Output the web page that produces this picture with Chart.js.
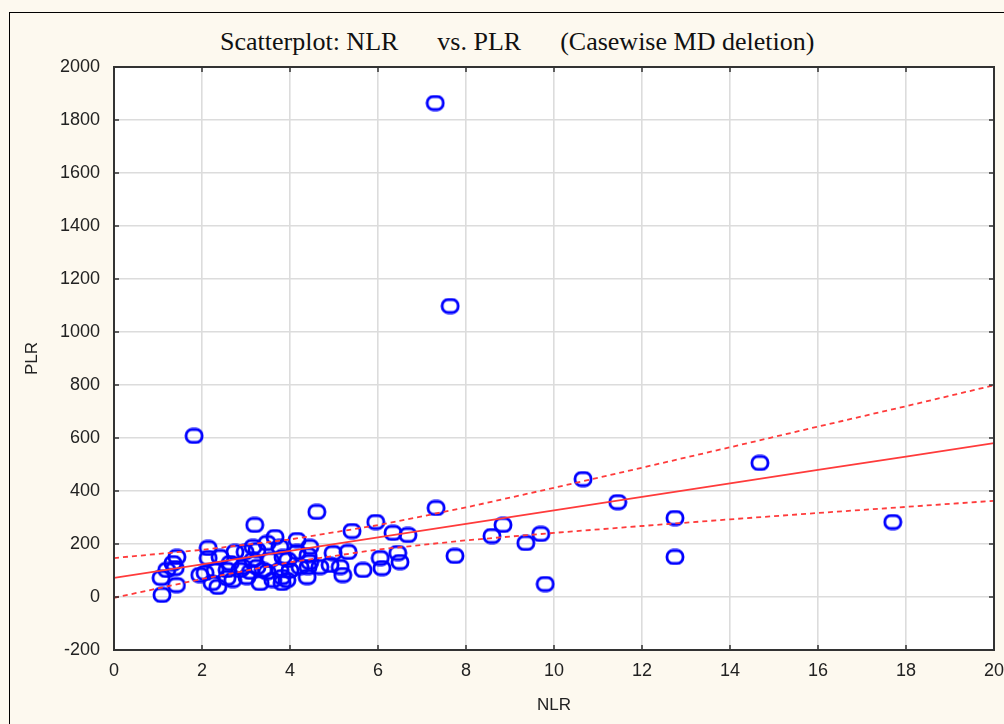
<!DOCTYPE html>
<html>
<head>
<meta charset="utf-8">
<script src="https://cdn.jsdelivr.net/npm/chart.js@4/dist/chart.umd.min.js"></script>
<style>
html, body { margin: 0; padding: 0; background: #fdf9ef; }
#wrap { position: relative; width: 1004px; height: 724px; overflow: hidden; }
#frame { position: absolute; left: 9px; top: 12px; width: 1100px; height: 800px; border: 1px solid #000; }
#title { position: absolute; left: 220px; top: 27px; font-family: "Liberation Serif", "Times New Roman", serif; font-size: 26px; color: #111; white-space: pre; }
canvas { position: absolute; left: 0; top: 0; }
</style>
</head>
<body>
<div id="wrap">
  <div id="frame"></div>
  <div id="title">Scatterplot: NLR      vs. PLR      (Casewise MD deletion)</div>
  <canvas id="scatter" width="1004" height="724"></canvas>
</div>
<script>
// scatter values
const nlr = [1.09, 1.07, 1.20, 1.34, 1.43, 1.39, 1.42, 1.82, 1.95, 2.07,
             2.14, 2.14, 2.23, 2.36, 2.41, 2.57, 2.57, 2.70, 2.64, 2.75,
             2.86, 2.93, 2.98, 3.02, 3.16, 3.16, 3.20, 3.25, 3.25, 3.32,
             3.39, 3.48, 3.48, 3.55, 3.61, 3.66, 3.77, 3.77, 3.82, 3.82,
             3.84, 3.93, 3.95, 4.16, 4.16, 4.23, 4.39, 4.41, 4.41, 4.45,
             4.45, 4.61, 4.68, 4.91, 4.98, 5.14, 5.20, 5.32, 5.41, 5.66,
             5.95, 6.05, 6.09, 6.34, 6.45, 6.50, 6.68, 7.30, 7.32, 7.64,
             7.75, 8.59, 8.84, 9.36, 9.70, 9.80, 10.66, 11.45, 12.75, 12.75,
             14.68, 17.70, 2.30, 3.10, 4.00];
const plr = [8, 72, 102, 128, 151, 109, 45, 608, 83, 91,
             185, 147, 53, 38, 151, 102, 72, 64, 128, 170,
             102, 113, 170, 75, 189, 140, 272, 177, 113, 53,
             102, 204, 94, 140, 64, 226, 189, 102, 75, 53,
             151, 64, 140, 215, 170, 113, 75, 158, 113, 189,
             132, 321, 113, 121, 166, 113, 83, 170, 249, 102,
             283, 147, 109, 242, 166, 132, 234, 1864, 336, 1098,
             155, 230, 272, 204, 238, 49, 445, 358, 298, 151,
             506, 283, 100, 95, 100];

// fitted line and confidence band
const bandX = [0, 2, 4, 6, 8, 10, 12, 14, 16, 18, 20];
const fitY = [72, 123, 174, 225, 276, 327, 378, 429, 480, 530, 581];
const upperY = [147, 178, 217, 271, 338, 412, 488, 565, 643, 720, 799];
const lowerY = [-3, 68, 131, 179, 214, 242, 268, 293, 317, 340, 363];

const xTicks = [0, 20, 2];        // min, max, step
const yTicks = [-200, 2000, 200];

function pairs(xs, ys) {
    return xs.map((x, i) => ({ x: x, y: ys[i] }));
}

// hollow rounded marker like the original plot
const marker = document.createElement('canvas');
marker.width = 20; marker.height = 17;
(function () {
    const m = marker.getContext('2d');
    m.strokeStyle = '#0000ff';
    m.lineWidth = 2.8;
    m.beginPath();
    m.roundRect(2, 2, 16, 13, 6);
    m.stroke();
})();

const frameBits = {
    id: 'frameBits',
    beforeDraw(chart) {
        const a = chart.chartArea, c = chart.ctx;
        c.save();
        c.fillStyle = '#ffffff';
        c.fillRect(a.left, a.top, a.right - a.left, a.bottom - a.top);
        c.restore();
    },
    afterDraw(chart) {
        const a = chart.chartArea, c = chart.ctx;
        const xs = chart.scales.x, ys = chart.scales.y;
        c.save();
        c.strokeStyle = '#333333';
        c.lineWidth = 2;
        c.strokeRect(a.left, a.top, a.right - a.left, a.bottom - a.top);
        c.lineWidth = 1.5;
        c.beginPath();
        xs.ticks.forEach(t => {
            const px = xs.getPixelForValue(t.value);
            c.moveTo(px, a.top); c.lineTo(px, a.top + 5);
            c.moveTo(px, a.bottom); c.lineTo(px, a.bottom - 5);
        });
        ys.ticks.forEach(t => {
            const py = ys.getPixelForValue(t.value);
            c.moveTo(a.left, py); c.lineTo(a.left + 5, py);
            c.moveTo(a.right, py); c.lineTo(a.right - 5, py);
        });
        c.stroke();
        c.restore();
    }
};

const tickFont = { family: '"Liberation Sans", Arial, sans-serif', size: 18 };
const lineRed = '#ff3b3b';

new Chart(document.getElementById('scatter'), {
    type: 'scatter',
    data: {
        datasets: [
            {
                label: 'PLR',
                data: pairs(nlr, plr),
                pointStyle: marker,
                pointRadius: 9,
                order: 1
            },
            {
                label: 'fit',
                data: pairs(bandX, fitY),
                showLine: true,
                borderColor: lineRed,
                borderWidth: 1.8,
                pointRadius: 0,
                order: 0
            },
            {
                label: 'upper',
                data: pairs(bandX, upperY),
                showLine: true,
                borderColor: lineRed,
                borderWidth: 1.8,
                borderDash: [5, 4],
                pointRadius: 0,
                order: 0
            },
            {
                label: 'lower',
                data: pairs(bandX, lowerY),
                showLine: true,
                borderColor: lineRed,
                borderWidth: 1.8,
                borderDash: [5, 4],
                pointRadius: 0,
                order: 0
            }
        ]
    },
    options: {
        responsive: false,
        animation: false,
        layout: { padding: { top: 67, right: 9, left: 0, bottom: 0 } },
        plugins: {
            legend: { display: false },
            tooltip: { enabled: false },
            title: { display: false }
        },
        scales: {
            x: {
                type: 'linear',
                min: xTicks[0], max: xTicks[1],
                ticks: { stepSize: xTicks[2], font: tickFont, color: '#222', padding: 10, maxRotation: 0,
                         callback: v => String(v) },
                grid: { color: '#dcdcdc', lineWidth: 1.6, drawTicks: false },
                border: { display: false },
                title: { display: true, text: 'NLR', font: { family: '"Liberation Sans", Arial, sans-serif', size: 17 }, color: '#222', padding: { top: 0, bottom: 8 } },
                afterFit(scale) {
                    scale.height = 74;
                    scale.paddingLeft = 0;
                    scale.paddingRight = 0;
                }
            },
            y: {
                min: yTicks[0], max: yTicks[1],
                ticks: { stepSize: yTicks[2], font: tickFont, color: '#222', padding: 14,
                         callback: v => String(v) },
                grid: { color: '#dcdcdc', lineWidth: 1.6, drawTicks: false },
                border: { display: false },
                title: { display: true, text: 'PLR', font: { family: '"Liberation Sans", Arial, sans-serif', size: 17 }, color: '#222', padding: { top: 22, bottom: 0 } },
                afterFit(scale) {
                    scale.width = 114;
                    scale.paddingTop = 0;
                    scale.paddingBottom = 0;
                }
            }
        }
    },
    plugins: [frameBits]
});
</script>
</body>
</html>
